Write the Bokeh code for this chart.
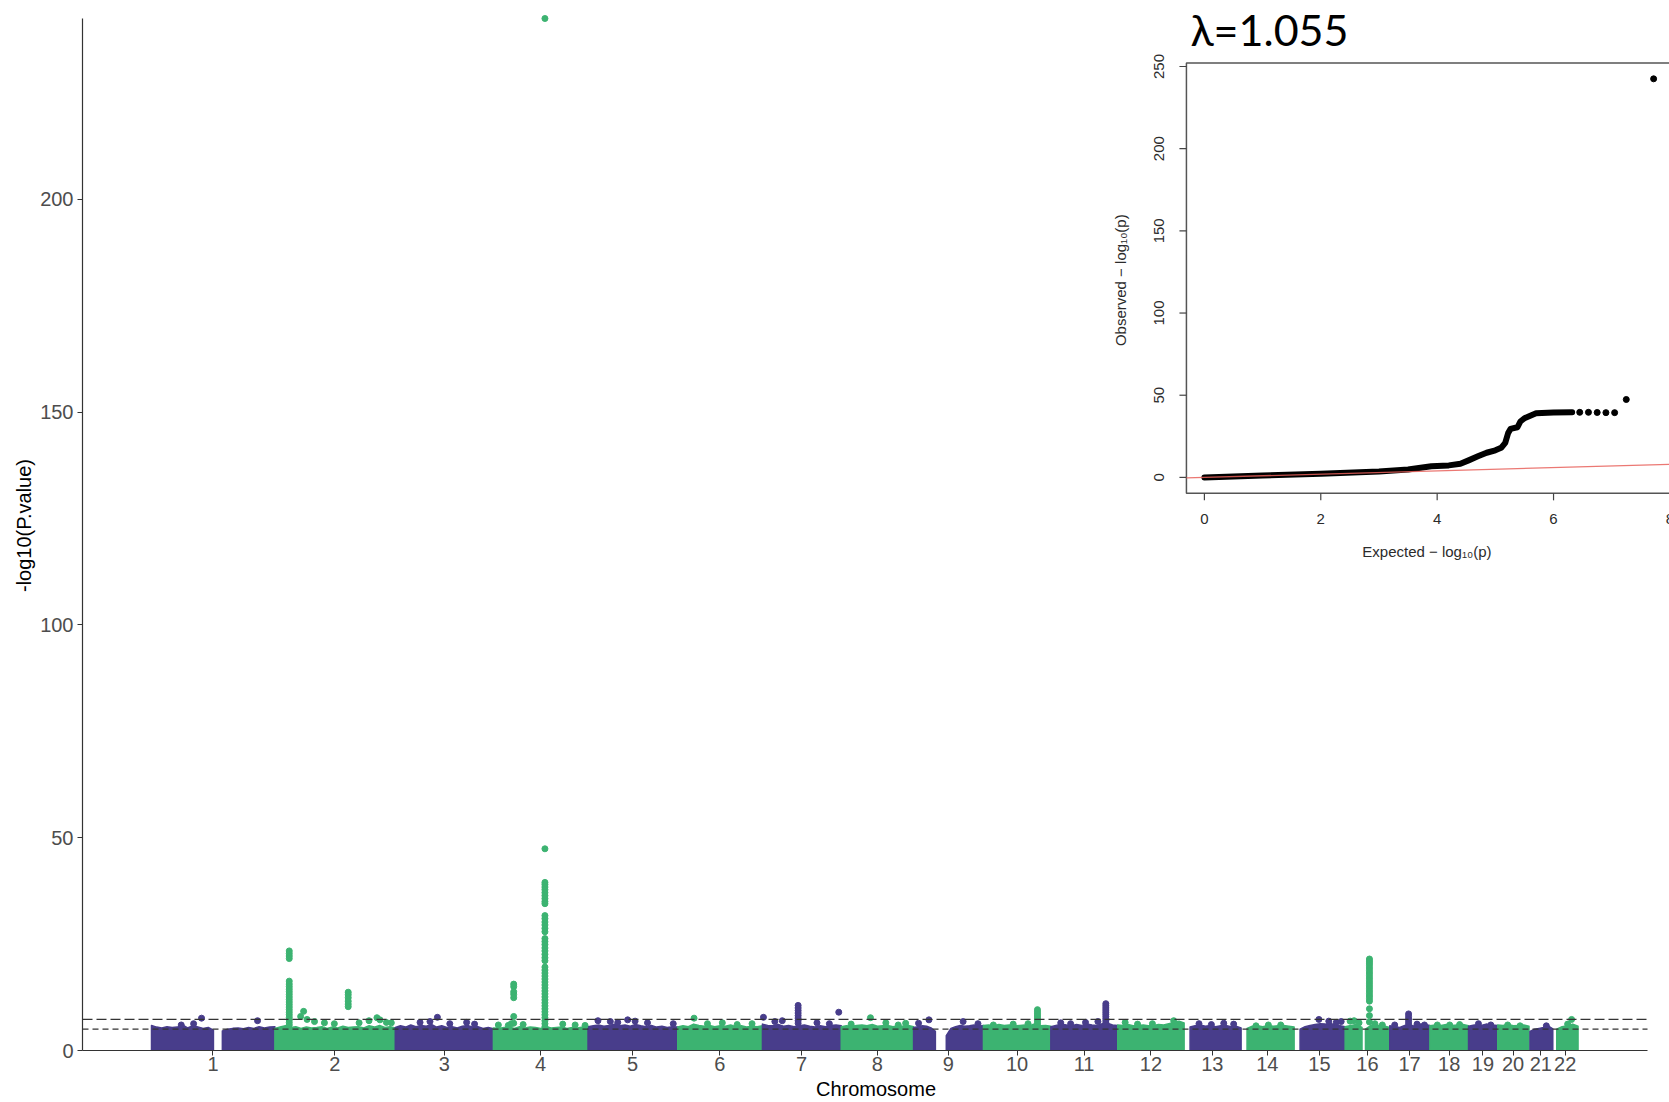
import math
from bokeh.plotting import figure
from bokeh.models import Range1d, FixedTicker
from bokeh.embed import file_html
from bokeh.resources import INLINE
from bokeh.core.properties import value

# ---------------- data ----------------
chrom_names = [str(i) for i in range(1, 23)]
chrom_len_mb = [249, 243, 198, 191, 181, 171, 159, 146, 141, 136, 135, 134,
                115, 107, 103, 90, 81, 78, 59, 63, 48, 51]

# dense mass of SNPs: segments per chromosome and the top edge of the mass
seg_chrom = [1, 1, 2, 3, 4, 5, 6, 7, 8, 9, 9, 10, 11, 12, 13, 14, 15, 16, 16,
             17, 18, 19, 20, 21, 22]
seg_start = [0, 143, 0, 0, 0, 0, 0, 0, 0, 0, 66, 0, 0, 0, 12, 12, 12, 0, 41,
             0, 0, 0, 0, 2, 8]
seg_end = [125, 249, 243, 198, 191, 181, 171, 159, 146, 44, 141, 136, 135, 134,
           115, 107, 103, 34, 90, 81, 78, 59, 63, 48, 51]
seg_top = [
    [5.9, 5.5, 5.3, 5.6, 5.4, 5.5, 6.0, 5.3, 5.8, 5.5, 5.2, 5.4, 4.8],
    [4.6, 5.0, 5.2, 5.3, 5.1, 5.4, 5.2, 5.6, 5.3, 5.5, 5.6],
    [5.2, 5.5, 5.8, 5.4, 5.6, 5.2, 5.5, 5.3, 5.4, 5.6, 5.2, 5.5, 5.3, 5.7, 5.4,
     5.5, 5.6, 5.3, 5.8, 5.5, 5.9, 5.4, 5.6, 5.3],
    [5.4, 5.8, 5.5, 6.0, 5.6, 5.9, 5.7, 6.1, 5.5, 5.8, 5.4, 5.6, 5.3, 5.7, 5.9,
     5.5, 5.6, 5.2, 5.4, 5.1],
    [5.3, 5.2, 5.4, 5.5, 5.2, 5.6, 5.3, 5.5, 5.4, 5.2, 5.6, 5.3, 5.4, 5.5, 5.2,
     5.4, 5.3, 5.5, 5.2],
    [5.6, 5.8, 6.0, 5.7, 5.9, 6.2, 5.8, 6.0, 5.7, 6.1, 5.8, 5.6, 5.9, 5.5, 5.7,
     5.4, 5.6, 5.5],
    [5.5, 5.8, 5.6, 6.2, 5.9, 5.7, 5.9, 5.6, 5.8, 5.7, 6.0, 5.6, 5.8, 5.5, 5.7,
     5.6, 5.8],
    [6.2, 5.9, 5.8, 6.1, 5.7, 5.9, 5.6, 5.8, 6.0, 5.7, 5.5, 5.8, 5.6, 5.9, 6.0, 5.8],
    [5.6, 5.8, 5.7, 5.9, 6.0, 5.8, 6.1, 5.7, 5.8, 5.9, 5.6, 5.8, 5.7, 5.9, 5.6],
    [5.4, 5.6, 5.8, 5.7, 5.3, 4.5],
    [3.5, 5.2, 5.6, 5.9, 5.7, 5.8, 6.0, 5.7, 5.9],
    [5.9, 6.0, 5.8, 6.1, 5.9, 6.0, 5.8, 5.9, 6.0, 5.9, 6.3, 5.8, 5.9, 5.7],
    [5.6, 5.9, 6.2, 6.0, 5.8, 6.1, 5.9, 6.2, 6.0, 5.9, 6.3, 6.4, 6.0, 5.9],
    [6.0, 5.9, 6.1, 5.8, 5.9, 6.0, 5.8, 5.9, 6.1, 6.0, 6.3, 6.6, 6.9, 6.5],
    [5.5, 5.8, 6.0, 5.7, 5.9, 5.6, 5.8, 5.9, 5.6, 5.7, 5.3],
    [5.2, 5.7, 5.8, 5.6, 5.9, 5.7, 5.8, 5.9, 5.7, 5.5],
    [5.0, 5.6, 5.9, 6.1, 6.3, 6.2, 6.4, 6.0, 5.8, 5.6],
    [5.6, 5.9, 6.1, 5.4],
    [5.0, 5.8, 6.0, 5.9, 5.7, 5.4],
    [5.8, 5.6, 5.4, 5.9, 6.0, 5.7, 6.2, 6.1, 5.9],
    [5.8, 6.0, 5.9, 6.1, 5.9, 6.0, 6.1, 5.8],
    [5.7, 6.0, 5.8, 6.2, 6.0, 5.9],
    [6.0, 5.9, 6.1, 5.8, 5.9, 6.0, 5.7],
    [4.5, 5.0, 5.2, 5.4, 5.8, 5.1],
    [5.0, 5.6, 5.8, 6.2, 5.7],
]

# association peaks: stacks of SNPs at one locus (chromosome, position in Mb)
spike_chrom = [2, 2, 4, 4, 7, 10, 11, 16, 17]
spike_pos = [29, 148, 41, 104, 72, 109, 111, 49, 38]
spike_vals = [
    [23.4, 22.8, 22.2, 21.6, 16.3, 15.6, 15.0, 14.4, 13.8, 13.2, 12.6, 12.0, 11.4,
     10.8, 10.2, 9.6, 9.0, 8.4, 7.8, 7.2, 6.6, 6.0],
    [13.7, 13.1, 12.4, 11.6, 10.9, 10.3],
    [15.6, 15.0, 13.8, 13.2, 12.4, 8.0, 6.4],
    [242.5, 47.4, 39.5, 39.0, 38.4, 37.8, 37.1, 36.4, 35.7, 35.0, 34.5, 31.7, 31.0,
     30.2, 29.5, 28.7, 27.9, 26.3, 25.6, 24.9, 24.1, 23.4, 22.6, 21.8, 21.1, 19.6,
     18.9, 18.2, 17.5, 16.8, 16.1, 15.4, 14.7, 14.0, 13.3, 12.6, 11.9, 11.2, 10.5,
     9.8, 9.1, 8.4, 7.7, 7.0, 6.3, 5.6],
    [10.6, 10.0, 9.4, 8.8, 8.2, 7.6, 7.0, 6.4],
    [9.6, 9.1, 8.6, 8.1, 7.6, 7.1, 6.6, 6.1],
    [11.0, 10.5, 10.0, 9.5, 9.0, 8.5, 8.0, 7.5, 7.0, 6.5, 6.0],
    [21.5, 21.0, 20.5, 20.0, 19.4, 18.8, 18.2, 17.6, 17.0, 16.4, 15.8, 15.2, 14.6,
     14.0, 13.4, 12.8, 12.2, 11.6, 9.8, 8.2, 6.7],
    [8.6, 8.0, 7.4, 6.8, 6.2],
]

# single SNPs standing just above the dense mass
pt_chrom = [1, 1, 1, 1, 2, 2, 2, 2, 2, 2, 2, 2, 2, 2, 2, 2, 3, 3, 3, 3, 3, 3,
            4, 4, 4, 4, 4, 4, 4, 5, 5, 5, 5, 5, 5, 5, 6, 6, 6, 6, 6,
            7, 7, 7, 7, 7, 7, 8, 8, 8, 8, 8, 9, 9, 9, 9, 10, 10, 10,
            11, 11, 11, 11, 12, 12, 12, 12, 13, 13, 13, 13, 14, 14, 14,
            15, 15, 15, 15, 16, 16, 16, 16, 16, 17, 17, 17, 18, 18, 18,
            19, 19, 20, 20, 21, 22, 22]
pt_pos = [101, 85, 214, 60, 58, 52, 65, 80, 100, 120, 170, 190, 206, 212, 225, 235,
          85, 144, 50, 70, 110, 160,
          10, 30, 36, 60, 140, 165, 185, 20, 45, 60, 80, 95, 120, 172,
          33, 60, 90, 120, 150,
          2, 25, 40, 110, 135, 154, 59, 20, 90, 115, 130, 31, 10, 100, 130,
          20, 60, 90, 20, 40, 70, 95, 15, 40, 70, 113, 30, 55, 80, 100,
          30, 55, 80, 50, 70, 85, 95, 10, 18, 28, 60, 75, 10, 55, 70,
          15, 40, 60, 20, 45, 20, 45, 35, 38, 30]
pt_val = [7.6, 6.3, 7.0, 6.0, 9.2, 8.0, 7.3, 6.8, 6.5, 6.3, 6.5, 7.0, 7.7, 7.2, 6.6, 6.5,
          7.8, 6.6, 6.6, 6.8, 6.3, 6.2,
          6.0, 5.9, 6.3, 6.1, 6.2, 6.0, 5.9, 7.0, 6.8, 6.6, 7.2, 6.9, 6.5, 6.3,
          7.6, 6.3, 6.5, 6.1, 6.3,
          7.8, 6.8, 7.0, 6.5, 6.3, 9.0, 7.7, 6.2, 6.5, 6.0, 6.4, 7.2, 6.4, 6.8, 6.3,
          6.0, 6.2, 6.3, 6.5, 6.3, 6.6, 6.8, 6.6, 6.2, 6.3, 7.0, 6.3, 6.1, 6.4, 6.2,
          5.8, 6.0, 6.0, 7.3, 6.9, 6.6, 6.8, 6.9, 7.0, 6.5, 6.3, 6.0, 6.0, 6.2, 6.0,
          6.0, 6.0, 6.1, 6.3, 6.0, 6.0, 5.8, 5.8, 7.3, 6.2]

suggestive_line = 5.0
genomewide_line = 7.3
y_ticks = [0, 50, 100, 150, 200]

# QQ plot (inset)
qq_expected = [0.0, 1.0, 2.0, 3.0, 3.5, 3.9, 4.2, 4.4, 4.55, 4.7, 4.85, 5.0, 5.1,
               5.17, 5.22, 5.26, 5.38, 5.43, 5.5, 5.6, 5.7, 6.0, 6.32]
qq_observed = [0.0, 1.1, 2.2, 3.6, 4.8, 6.8, 7.3, 8.3, 10.5, 12.8, 15.0, 16.5, 18.0,
               21.0, 27.0, 29.5, 30.5, 34.0, 36.0, 37.5, 39.0, 39.5, 39.7]
qq_tail_expected = [6.45, 6.6, 6.75, 6.9, 7.05, 7.25, 7.72]
qq_tail_observed = [39.6, 39.6, 39.5, 39.4, 39.4, 47.4, 242.5]
qq_xticks = [0, 2, 4, 6, 8]
qq_yticks = [0, 50, 100, 150, 200, 250]
lambda_gc = 1.055

# ---------------- style / layout ----------------
PURPLE = "#483D8B"
GREEN = "#3CB371"
FONT = "Liberation Sans"

FIG_W, FIG_H = 1669, 1102
BORDER_L, BORDER_B = 82, 52
FRAME_W = FIG_W - BORDER_L
FRAME_H = FIG_H - BORDER_B
PX_PER_MB = 0.4955
GENOME_OFFSET_PX = 69
AXIS_END_PX = 1565
PX_PER_Y = 1032.0 / 242.5

x_start = -GENOME_OFFSET_PX / PX_PER_MB
x_end = x_start + FRAME_W / PX_PER_MB
y_end = FRAME_H / PX_PER_Y

# inset placement (pixels inside the main frame, from its left / bottom edge)
QQ_X0_PX, QQ_PX_PER_X = 1121.9, 58.19
QQ_Y0_PX, QQ_PX_PER_Y = 573.1, 1.6436
qx_start = -QQ_X0_PX / QQ_PX_PER_X
qx_end = (FRAME_W - QQ_X0_PX) / QQ_PX_PER_X
qy_start = -QQ_Y0_PX / QQ_PX_PER_Y
qy_end = (FRAME_H - QQ_Y0_PX) / QQ_PX_PER_Y

# ---------------- derived positions ----------------
chrom_offset = []
acc = 0
for L in chrom_len_mb:
    chrom_offset.append(acc)
    acc += L
chrom_center = [int(o + L // 2) for o, L in zip(chrom_offset, chrom_len_mb)]


def chrom_color(c):
    return PURPLE if c % 2 == 1 else GREEN


p = figure(width=FIG_W, height=FIG_H, output_backend="svg", toolbar_location=None,
           x_range=Range1d(x_start, x_end), y_range=Range1d(0, y_end),
           min_border_left=BORDER_L, min_border_right=0, min_border_top=0,
           min_border_bottom=BORDER_B)
p.extra_x_ranges = {"qqx": Range1d(qx_start, qx_end)}
p.extra_y_ranges = {"qqy": Range1d(qy_start, qy_end)}
p.outline_line_color = None
p.xgrid.visible = False
p.ygrid.visible = False
p.background_fill_color = "white"
p.border_fill_color = "white"

# dense band
xs, ys, cols = [], [], []
for c, s, e, tops in zip(seg_chrom, seg_start, seg_end, seg_top):
    off = chrom_offset[c - 1]
    n = len(tops)
    px = [off + s] + [off + s + (e - s) * k / (n - 1) for k in range(n)] + [off + e]
    py = [0] + list(tops) + [0]
    xs.append(px)
    ys.append(py)
    cols.append(chrom_color(c))
p.patches(xs, ys, fill_color=cols, line_color=cols, line_width=1.5, line_join="round")

# single points
p.scatter([chrom_offset[c - 1] + pos for c, pos in zip(pt_chrom, pt_pos)], pt_val,
          size=6, color=[chrom_color(c) for c in pt_chrom])

# peaks
sx, sy, sc = [], [], []
for c, pos, vals in zip(spike_chrom, spike_pos, spike_vals):
    for v in vals:
        sx.append(chrom_offset[c - 1] + pos)
        sy.append(v)
        sc.append(chrom_color(c))
p.scatter(sx, sy, size=6, color=sc)

# threshold lines
axis_x_end = x_start + AXIS_END_PX / PX_PER_MB
p.segment([x_start], [genomewide_line], [axis_x_end], [genomewide_line],
          line_color="#333333", line_width=1.2, line_dash="10 4")
p.segment([x_start], [suggestive_line], [axis_x_end], [suggestive_line],
          line_color="#333333", line_width=1.2, line_dash="6 4")

# axes
max_obs = max(max(v) for v in spike_vals)
p.xaxis.ticker = FixedTicker(ticks=chrom_center)
p.xaxis.major_label_overrides = {c: n for c, n in zip(chrom_center, chrom_names)}
p.xaxis.bounds = (x_start, axis_x_end)
p.xaxis.axis_label = "Chromosome"
p.yaxis.ticker = FixedTicker(ticks=y_ticks)
p.yaxis.bounds = (0, max_obs)
p.yaxis.axis_label = "-log10(P.value)"
for ax in (p.xaxis[0], p.yaxis[0]):
    ax.axis_line_color = "#333333"
    ax.axis_line_width = 1.2
    ax.major_tick_line_color = "#333333"
    ax.major_tick_out = 5
    ax.major_tick_in = 0
    ax.minor_tick_line_color = None
    ax.major_label_text_font = FONT
    ax.major_label_text_color = "#4D4D4D"
    ax.major_label_text_font_size = "20px"
    ax.axis_label_text_font = FONT
    ax.axis_label_text_font_style = "normal"
    ax.axis_label_text_color = "black"
    ax.axis_label_text_font_size = "20px"
p.xaxis.major_label_standoff = 1
p.xaxis.axis_label_standoff = 4
p.yaxis.major_label_standoff = 4
p.yaxis.axis_label_standoff = 2

# ---------------- QQ inset ----------------
R = dict(x_range_name="qqx", y_range_name="qqy")
qx_max = max(qq_tail_expected)
qy_max = max(qq_tail_observed)
box_l, box_r = -0.04 * qx_max, qx_max * 1.04
box_b, box_t = -0.04 * qy_max, qy_max * 1.04
dx = 1.0 / QQ_PX_PER_X
dy = 1.0 / QQ_PX_PER_Y

p.quad(left=[box_l], right=[box_r], bottom=[box_b], top=[box_t], fill_color="white",
       line_color="#555555", line_width=1.5, **R)

# ticks
p.segment(qq_xticks, [box_b] * len(qq_xticks), qq_xticks, [box_b - 7 * dy] * len(qq_xticks),
          line_color="#444444", line_width=1.2, **R)
p.segment([box_l] * len(qq_yticks), qq_yticks, [box_l - 7 * dx] * len(qq_yticks), qq_yticks,
          line_color="#444444", line_width=1.2, **R)
p.text(qq_xticks, [box_b - 26 * dy] * len(qq_xticks), text=[str(t) for t in qq_xticks],
       text_font=value(FONT), text_font_size="15px", text_color="#2b2b2b",
       text_align="center", text_baseline="middle", **R)
p.text([box_l - 27 * dx] * len(qq_yticks), qq_yticks, text=[str(t) for t in qq_yticks],
       angle=math.pi / 2, text_font=value(FONT), text_font_size="15px", text_color="#2b2b2b",
       text_align="center", text_baseline="middle", **R)
p.text([(box_l + box_r) / 2], [box_b - 58 * dy], text=["Expected  \u2212 log\u2081\u2080(p)"],
       text_font=value(FONT), text_font_size="15px", text_color="#2b2b2b",
       text_align="center", text_baseline="middle", **R)
p.text([box_l - 66 * dx], [(box_b + box_t) / 2], text=["Observed  \u2212 log\u2081\u2080(p)"],
       angle=math.pi / 2, text_font=value(FONT), text_font_size="15px", text_color="#2b2b2b",
       text_align="center", text_baseline="middle", **R)

# points
p.line(qq_expected, qq_observed, line_color="black", line_width=6, line_cap="round",
       line_join="round", **R)
p.scatter(qq_tail_expected, qq_tail_observed, size=6, color="black", **R)
# y = x reference line across the box
p.segment([box_l], [box_l], [box_r], [box_r], line_color="#E8605A", line_width=1.3,
          line_alpha=0.85, **R)

# lambda
p.text([box_l + 4 * dx], [box_t + 33 * dy], text=["\u03bb=%.3f" % lambda_gc],
       text_font=value("Lato"), text_font_size="43px", text_color="black",
       text_align="left", text_baseline="middle", **R)

open("out.html", "w").write(file_html(p, INLINE))
